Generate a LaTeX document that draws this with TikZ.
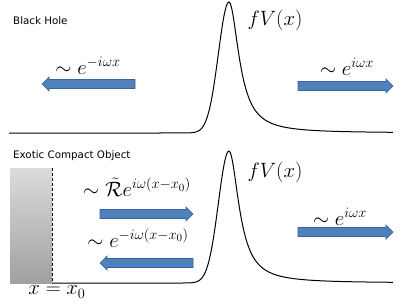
\documentclass[tikz,border=0pt]{standalone}
\usepackage{fontspec}
\usepackage{amsmath}
\newfontfamily\labelfont{DejaVu Sans}
\definecolor{arrowblue}{HTML}{4F81BD}
\definecolor{arrowedge}{HTML}{3A6496}
\newcommand\rblockarrow[3]{\draw[barrow] ({#1},{#3-4.5}) -- ({#2-7},{#3-4.5}) -- ({#2-7},{#3-7}) -- ({#2},{#3}) -- ({#2-7},{#3+7}) -- ({#2-7},{#3+4.5}) -- ({#1},{#3+4.5}) -- cycle;}
\newcommand\lblockarrow[3]{\draw[barrow] ({#2},{#3-4.5}) -- ({#1+7},{#3-4.5}) -- ({#1+7},{#3-7}) -- ({#1},{#3}) -- ({#1+7},{#3+7}) -- ({#1+7},{#3+4.5}) -- ({#2},{#3+4.5}) -- cycle;}
\tikzset{
  txt/.style={font=\labelfont\fontsize{10.3}{12}\selectfont, inner sep=0, anchor=west},
  mlab/.style={font=\fontsize{21}{24}\selectfont, inner sep=0},
  flab/.style={font=\fontsize{22}{25}\selectfont, inner sep=0},
  barrow/.style={fill=arrowblue, draw=arrowedge, line width=0.7pt},
  pot/.style={line width=1pt, black},
}
\begin{document}
\begin{tikzpicture}[x=1pt,y=-1pt]
\useasboundingbox (0,0) rectangle (407,305);
% ---------- top panel ----------
\node[txt] (bh) at (13,20.5) {Black Hole};
\node[flab] (fvtop) at (275,20) {$fV(x)$};
\node[mlab] (lin) at (88,66) {$\sim e^{-i\omega x}$};
\node[mlab] (rout) at (347,67) {$\sim e^{i\omega x}$};
\lblockarrow{42}{135}{84}
\rblockarrow{298}{393}{86}
\draw[pot] (9,133) -- (160,133)
  -- plot[domain=160:229,samples=70] (\x,{133-131*exp(-((\x-229)/15)^2)})
  -- plot[domain=229:393,samples=120] (\x,{133-131/(1+((\x-229)/12)^2)});
% ---------- bottom panel ----------
\node[txt] (eco) at (13,156) {Exotic Compact Object};
\shade[top color=gray!28, bottom color=gray!74] (10,168) rectangle (52,283);
\draw[dashed, line width=1pt, dash pattern=on 3pt off 2pt] (52,168) -- (52,283);
\node[flab] (fvbot) at (275,172) {$fV(x)$};
\node[mlab] (refl) at (137,187) {$\sim \tilde{\mathcal{R}} e^{i\omega (x-x_0)}$};
\node[mlab] (inc) at (138,238) {$\sim e^{-i\omega (x-x_0)}$};
\node[mlab] (rout2) at (340,217) {$\sim e^{i\omega x}$};
\node[mlab] (xx0) at (57,292) {$x=x_0$};
\rblockarrow{100}{193}{214}
\lblockarrow{100}{193}{263}
\rblockarrow{298}{393}{232}
\draw[pot] (52,283) -- (160,283)
  -- plot[domain=160:229,samples=70] (\x,{283-132*exp(-((\x-229)/15)^2)})
  -- plot[domain=229:393,samples=120] (\x,{283-132/(1+((\x-229)/12)^2)});
\end{tikzpicture}
\end{document}
